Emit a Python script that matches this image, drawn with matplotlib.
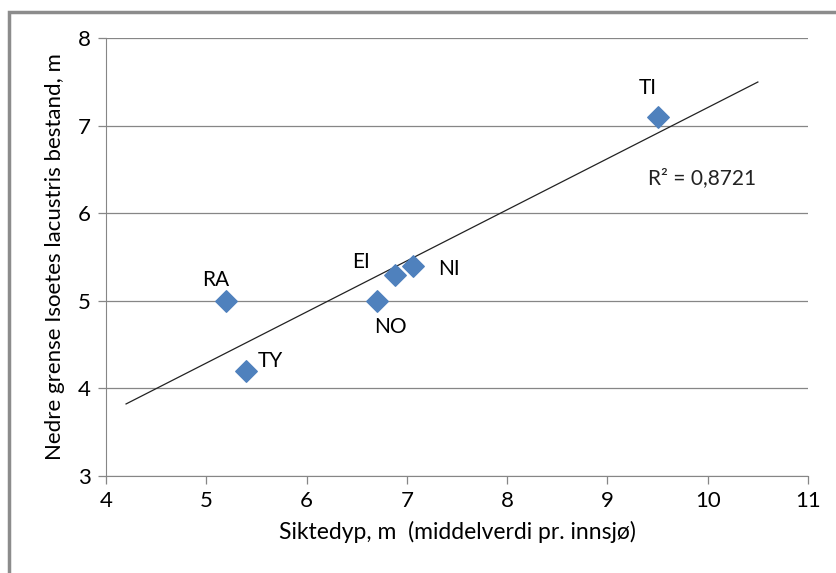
import numpy as np
import matplotlib.pyplot as plt
from matplotlib.patches import Rectangle

# Data
lakes = ['RA', 'TY', 'NO', 'EI', 'NI', 'TI']
siktedyp = [5.2, 5.4, 6.7, 6.88, 7.06, 9.5]
grense = [5.0, 4.2, 5.0, 5.3, 5.4, 7.1]
r2_shown = 0.8721  # as printed in the chart
x_ticks = [4, 5, 6, 7, 8, 9, 10, 11]
y_ticks = [3, 4, 5, 6, 7, 8]

# label offsets in points (dx, dy)
offsets = {'RA': (-8, 15), 'TY': (17, 7), 'NO': (10, -19), 'EI': (-24, 9),
           'NI': (26, -2), 'TI': (-7, 21)}

fig = plt.figure(figsize=(8.37, 5.73), dpi=100)
fig.patches.append(Rectangle((9 / 837, -0.01), 1.0, 1 - 12 / 573 + 0.01,
                             transform=fig.transFigure, fill=False,
                             edgecolor='#8c8c8c', linewidth=2.5))
ax = fig.add_axes([106 / 837, 1 - 476 / 573, 702 / 837, 438 / 573])

ax.scatter(siktedyp, grense, marker='D', s=120, color='#4f81bd', zorder=3)

# lineaer trendlinje
a, b = np.polyfit(siktedyp, grense, 1)
xt = np.array([4.2, 10.5])
ax.plot(xt, a * xt + b, color='#222222', lw=0.9, zorder=2)
ax.text(9.4, 6.33, 'R² = ' + f'{r2_shown:.4f}'.replace('.', ','), fontsize=15,
        family='Lato', color='#222222')

for name, x, y in zip(lakes, siktedyp, grense):
    dx, dy = offsets[name]
    ax.annotate(name, (x, y), xytext=(dx, dy), textcoords='offset points',
                ha='center', va='center', fontsize=15, family='Lato')

ax.set_xlim(4, 11)
ax.set_ylim(3, 8)
ax.set_xticks(x_ticks)
ax.set_yticks(y_ticks)
ax.grid(axis='y', color='#868686', lw=0.9)
ax.set_axisbelow(True)
for s in ['top', 'right']:
    ax.spines[s].set_visible(False)
for s in ['left', 'bottom']:
    ax.spines[s].set_color('#868686')
ax.tick_params(color='#868686', length=6, width=0.9, labelsize=16, pad=5)
for lab in ax.get_xticklabels() + ax.get_yticklabels():
    lab.set_family('Lato')

ax.set_xlabel('Siktedyp, m  (middelverdi pr. innsjø)', fontsize=16.5,
              family='Lato', labelpad=7)
ax.set_ylabel('Nedre grense Isoetes lacustris bestand, m', fontsize=16,
              family='Lato', labelpad=9)

plt.savefig('out.png', dpi=100)
